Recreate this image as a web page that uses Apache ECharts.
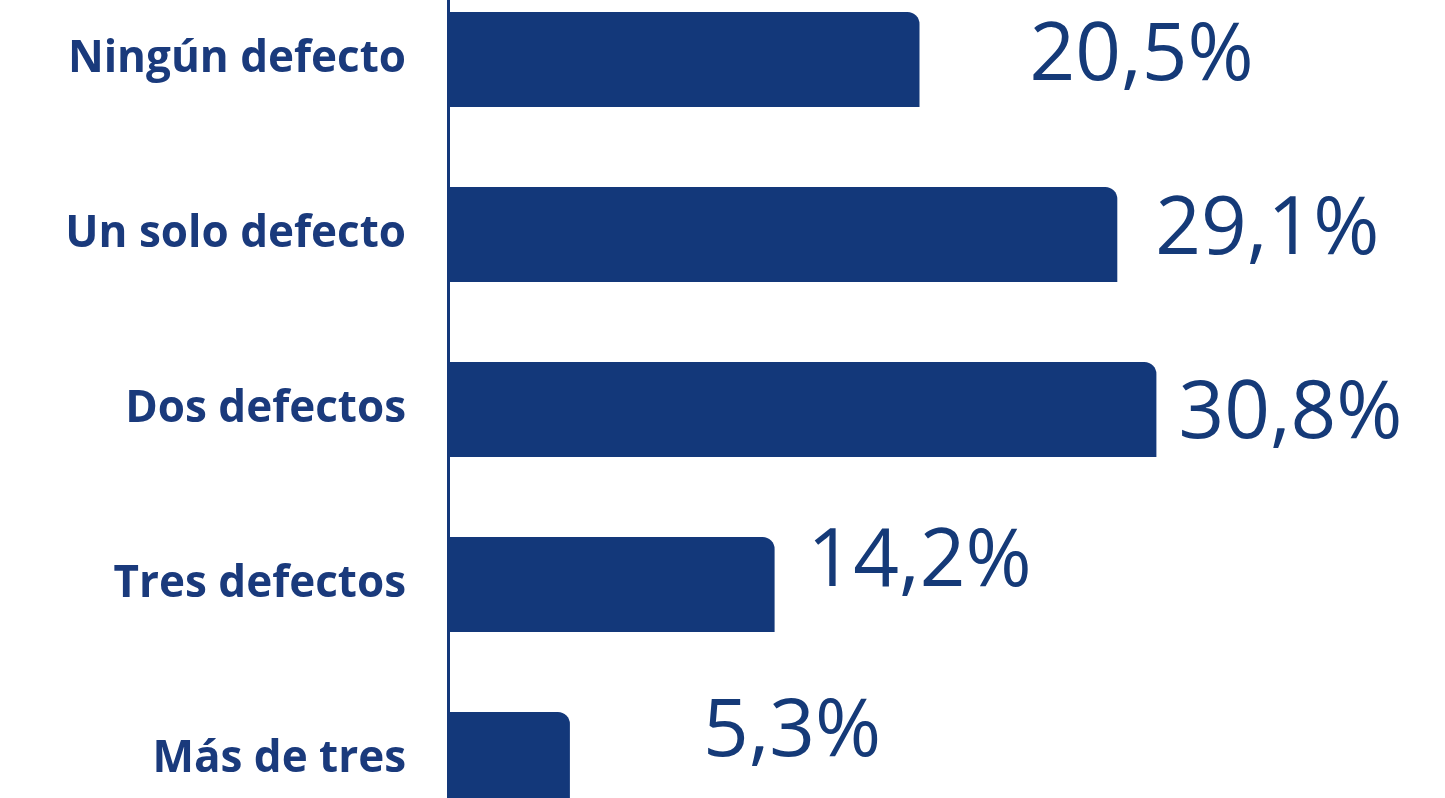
<!DOCTYPE html>
<html>
<head>
<meta charset="utf-8">
<script src="https://cdn.jsdelivr.net/npm/echarts@6/dist/echarts.min.js"></script>
<style>
  html, body { margin: 0; padding: 0; background: #fff; }
  #chart { width: 1445px; height: 798px; }
</style>
</head>
<body>
<div id="chart"></div>
<script>
// categories, top to bottom
const categories = ['Ningún defecto', 'Un solo defecto', 'Dos defectos', 'Tres defectos', 'Más de tres'];
// share of cases, %
const shares = [20.5, 29.1, 30.8, 14.2, 5.3];

// label nudges so the numbers sit where the original put them
const labelNudge = [[105, -2], [33, -3], [17, 6], [28, -21], [128, -26]];

const navy = '#13387a';

function pct(v) {
    return v.toFixed(1).replace('.', ',') + '%';
}

const chart = echarts.init(document.getElementById('chart'));

chart.setOption({
    animation: false,
    grid: {
        left: 448, top: -28, width: 920, height: 875,
        containLabel: false,
        outerBoundsMode: 'none'
    },
    xAxis: {
        type: 'value',
        min: 0,
        max: 40,
        show: false
    },
    yAxis: {
        type: 'category',
        data: categories,
        inverse: true,
        axisLine: { show: true, lineStyle: { color: navy, width: 3 } },
        axisTick: { show: false },
        axisLabel: {
            margin: 42,
            color: '#1a3a7c',
            fontFamily: 'Open Sans',
            fontWeight: 'bold',
            fontSize: 44
        }
    },
    series: [{
        type: 'bar',
        barWidth: 95,
        data: shares.map((v, i) => ({
            value: v,
            label: { offset: labelNudge[i] }
        })),
        itemStyle: { color: navy, borderRadius: [0, 12, 0, 0] },
        label: {
            show: true,
            position: 'right',
            distance: 5,
            color: '#153a78',
            fontFamily: 'Open Sans',
            fontSize: 80,
            formatter: p => pct(p.value)
        }
    }]
});
</script>
</body>
</html>
